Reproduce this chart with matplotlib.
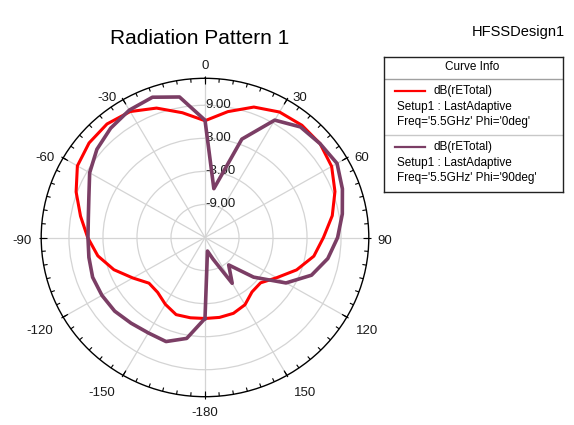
import numpy as np
import matplotlib
matplotlib.use("Agg")
import matplotlib.pyplot as plt
from matplotlib.lines import Line2D

plt.rcParams["font.family"] = ["Liberation Sans", "DejaVu Sans"]

# theta in degrees (0 at top, clockwise), values in dB
theta_deg = np.arange(-180, 181, 10)

phi0_db = [-0.3, -0.2, -0.1, -1.0, -2.0, -2.1, -0.3, 2.1, 4.2, 5.7,
           7.3, 9.2, 11.0, 11.7, 11.9, 11.4, 10.0, 8.0, 6.2, 8.2,
           10.2, 11.3, 11.6, 11.5, 10.8, 9.4, 7.8, 5.9, 4.5, 2.2,
           -0.4, -2.2, -2.1, -0.9, -0.35, -0.27, -0.3]

phi90_db = [-0.3, 3.6, 5.1, 5.0, 5.3, 5.8, 6.0, 6.1, 5.8, 5.65,
            5.9, 6.8, 8.5, 9.9, 10.9, 11.7, 12.1, 10.9, 6.3, -6.0,
            4.0, 9.6, 11.2, 11.5, 11.9, 10.8, 9.6, 8.4, 7.0, 5.0,
            1.5, -3.8, -8.5, -5.4, -10.8, -12.5, -0.3]

r_min, r_max = -15.0, 13.9
r_ticks = [-9, -3, 3, 9]
r_tick_labels = ["-9.00", "-3.00", "3.00", "9.00"]

theta_ticks = np.arange(0, 360, 30)
theta_labels = ["0", "30", "60", "90", "120", "150", "-180",
                "-150", "-120", "-90", "-60", "-30"]
minor_ticks = np.arange(0, 360, 5)

curve_names = ["dB(rETotal)", "dB(rETotal)"]
curve_setup = ["Setup1 : LastAdaptive", "Setup1 : LastAdaptive"]
curve_freq = ["Freq='5.5GHz' Phi='0deg'", "Freq='5.5GHz' Phi='90deg'"]
curve_colors = ["#ff0000", "#7b3e65"]
curve_widths = [2.2, 2.6]

W, H = 574, 425
fig = plt.figure(figsize=(W / 100, H / 100), dpi=100)
fig.patch.set_facecolor("white")

# polar plot: centre ~(205, 237.5), slightly squashed like the original
cx, cy, rx, ry = 205, 237.5, 163.8, 159.2
ax = fig.add_axes([(cx - rx) / W, (H - cy - ry) / H, 2 * rx / W, 2 * ry / H],
                  projection="polar")
ax.set_aspect("auto")
ax.set_theta_zero_location("N")
ax.set_theta_direction(-1)
ax.set_ylim(r_min, r_max)

th = np.deg2rad(theta_deg)
ax.plot(th, phi0_db, color=curve_colors[0], lw=curve_widths[0], zorder=3)
ax.plot(th, phi90_db, color=curve_colors[1], lw=curve_widths[1], zorder=4)

ax.set_yticks(r_ticks)
ax.set_yticklabels([])
ax.set_xticks(np.deg2rad(theta_ticks))
ax.set_xticklabels([])
ax.tick_params(axis="x", length=0)
ax.grid(True, color="#d4d4d4", lw=0.9)
ax.spines["polar"].set_color("black")
ax.spines["polar"].set_linewidth(1.0)

# tick marks on the rim
ax.vlines(np.deg2rad(minor_ticks), r_max - 0.7, r_max, color="black", lw=0.8,
          zorder=5, clip_on=False)
ax.vlines(np.deg2rad(theta_ticks), r_max - 1.0, r_max + 0.35, color="black", lw=0.8,
          zorder=5, clip_on=False)

for t, lab in zip(theta_ticks, theta_labels):
    s, c = np.sin(np.deg2rad(t)), np.cos(np.deg2rad(t))
    ha = "left" if s > 0.1 else ("right" if s < -0.1 else "center")
    va = "bottom" if c > 0.9 else ("top" if c < -0.3 else "center")
    g = (6 + 4 * max(-c, 0)) * 0.72
    dx = g * s + (-2.5 if s < -0.1 else 1.5 if s > 0.1 else 0)
    dy = g * c - (2.5 if va != "bottom" and abs(c) < 0.9 else 0)
    ax.annotate(lab, xy=(np.deg2rad(t), r_max), xytext=(dx, dy),
                textcoords="offset points", ha=ha, va=va, fontsize=9.5,
                color="#1a1a1a", annotation_clip=False)

for v, lab in zip(r_ticks, r_tick_labels):
    ax.text(0, v, lab, ha="left", va="center", fontsize=9.5, color="#1a1a1a", zorder=2)

fig.text(200 / W, 1 - 38 / H, "Radiation Pattern 1", ha="center", va="center", fontsize=15)
fig.text(565 / W, 1 - 32 / H, "HFSSDesign1", ha="right", va="center", fontsize=10.5)

# legend box
lx0, lx1, ly0, ly1 = 384, 563, 56.7, 191.7
lg = fig.add_axes([lx0 / W, 1 - ly1 / H, (lx1 - lx0) / W, (ly1 - ly0) / H])
lg.set_xlim(lx0, lx1)
lg.set_ylim(ly1, ly0)
lg.set_xticks([])
lg.set_yticks([])
for sp in lg.spines.values():
    sp.set_color("#222222")
    sp.set_linewidth(1.0)
lg.axhline(79.3, color="#a0a0a0", lw=1.0)
lg.axhline(135, color="#c8c8c8", lw=1.0)
lg.text(472, 66.7, "Curve Info", ha="center", va="center", fontsize=8.5)

for i in range(2):
    y0 = 90.7 + i * 56
    lg.add_line(Line2D([395, 425], [y0, y0], color=curve_colors[i], lw=1.6))
    lg.text(433, y0, curve_names[i], ha="left", va="center", fontsize=8.5)
    lg.text(396.5, y0 + 16, curve_setup[i], ha="left", va="center", fontsize=8.5)
    lg.text(396.5, y0 + 31, curve_freq[i], ha="left", va="center", fontsize=8.5)

fig.savefig("out.png", dpi=100, facecolor="white")
